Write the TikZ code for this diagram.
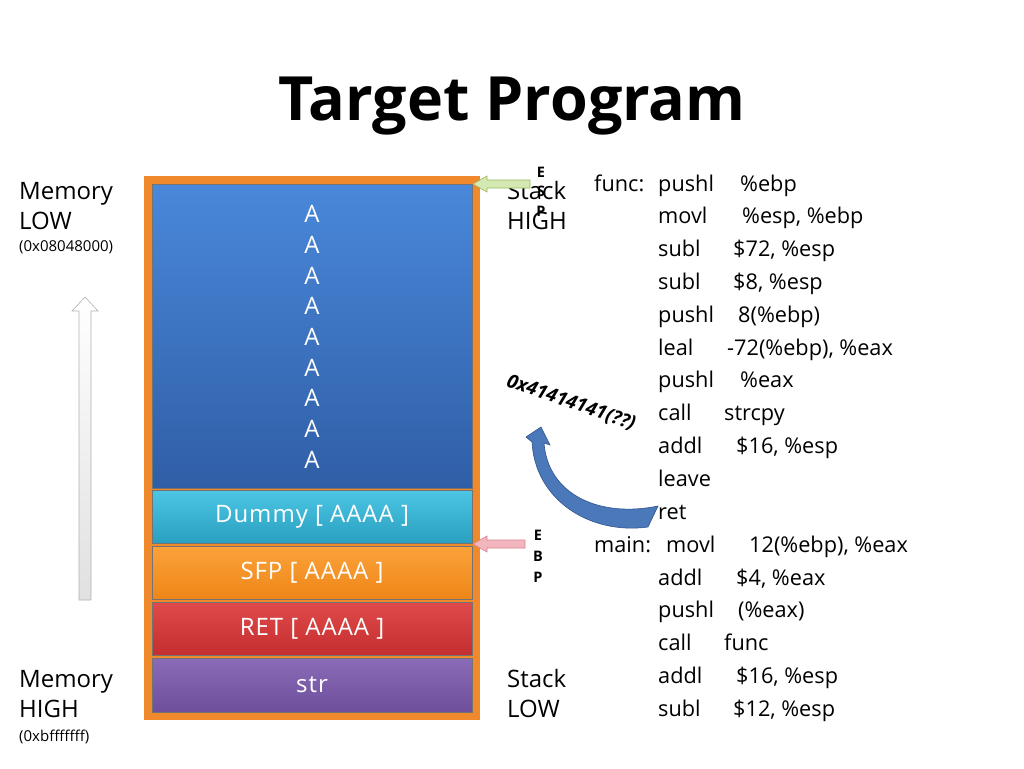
\documentclass[tikz,border=0pt]{standalone}
\usepackage{fontspec}
\setmainfont{Open Sans}
\newfontfamily\blkfont[LetterSpace=4]{Open Sans}
\usetikzlibrary{shadings}
\definecolor{frameor}{HTML}{F0892B}
\definecolor{blueT}{HTML}{4A88DA}
\definecolor{blueB}{HTML}{2F5EA6}
\definecolor{tealT}{HTML}{4CC6E4}
\definecolor{tealB}{HTML}{2A9FC0}
\definecolor{orT}{HTML}{FBA23A}
\definecolor{orB}{HTML}{EE8618}
\definecolor{redT}{HTML}{E04A4A}
\definecolor{redB}{HTML}{C42E2E}
\definecolor{purT}{HTML}{8A6BB8}
\definecolor{purB}{HTML}{6E4F9C}
\definecolor{arrblue}{HTML}{4A78B8}
\definecolor{arrblueD}{HTML}{2F5490}
\definecolor{grn}{HTML}{D4E8B4}
\definecolor{grnD}{HTML}{9BBB59}
\definecolor{pnk}{HTML}{F4B6BE}
\definecolor{pnkD}{HTML}{D9848F}
\begin{document}
\begin{tikzpicture}[x=1pt,y=-1pt,
  blk/.style={draw=black!55,line width=0.8pt,minimum width=320pt,inner sep=0pt,
    font=\blkfont\fontsize{24}{26}\selectfont,text=white},
  lbl/.style={anchor=base west,inner sep=0pt,font=\fontsize{24}{26}\selectfont},
  sml/.style={anchor=base west,inner sep=0pt,font=\fontsize{15}{17}\selectfont},
  code/.style={anchor=base west,inner sep=0pt,font=\fontsize{21.7}{24}\selectfont},
  ptr/.style={inner sep=0pt,font=\bfseries\fontsize{14.5}{15}\selectfont},
  alet/.style={inner sep=0pt,text=white,font=\fontsize{24}{26}\selectfont}]
\useasboundingbox (0,0) rectangle (1024,768);
\fill[white] (0,0) rectangle (1024,768);
% title
\node[anchor=base,inner sep=0pt,font=\bfseries\fontsize{61}{66}\selectfont] (title) at (512,120) {Target Program};
% frame
\node[fill=frameor,minimum width=336pt,minimum height=544pt,inner sep=0pt] (frame) at (312,448) {};
% blocks
\node[blk,minimum height=304pt,top color=blueT,bottom color=blueB] (buf) at (312,336) {};
\node[blk,minimum height=53pt,top color=tealT,bottom color=tealB] (dummy) at (312,516.5) {Dummy [ AAAA ]};
\node[blk,minimum height=53pt,top color=orT,bottom color=orB] (sfp) at (312,572.5) {SFP [ AAAA ]};
\node[blk,minimum height=53pt,top color=redT,bottom color=redB] (ret) at (312,628.5) {RET [ AAAA ]};
\node[blk,minimum height=54pt,top color=purT,bottom color=purB] (str) at (312,685) {str};
\foreach \i/\y in {1/214,2/245,3/276,4/306,5/337,6/368,7/398,8/429,9/460}
  \node[alet] (a\i) at (312,\y) {A};
% left labels
\node[lbl] (memlow1) at (19,199) {Memory};
\node[lbl] (memlow2) at (19,229) {LOW};
\node[sml] (memlow3) at (19,251) {(0x08048000)};
\node[lbl] (memhi1) at (19,687) {Memory};
\node[lbl] (memhi2) at (19,717) {HIGH};
\node[sml] (memhi3) at (19,741) {(0xbfffffff)};
% white up arrow
\shade[top color=white,bottom color=black!12,draw=black!30,line width=0.6pt]
  (79,600) -- (79,311) -- (72,311) -- (85,297) -- (98,311) -- (91,311) -- (91,600) -- cycle;
% stack labels
\node[lbl] (sh1) at (507,199) {Stack};
\node[lbl] (sh2) at (507,229) {HIGH};
\node[lbl] (sl1) at (507,687) {Stack};
\node[lbl] (sl2) at (507,717) {LOW};
% ESP
\node[ptr] (espE) at (541,172) {E};
\node[ptr] (espS) at (541,191) {S};
\node[ptr] (espP) at (541,211) {P};
\fill[grn,draw=grnD,line width=0.6pt] (473,184) -- (487,176) -- (487,180) -- (530,180) -- (530,188) -- (487,188) -- (487,192) -- cycle;
% EBP
\node[ptr] (ebpE) at (538,535) {E};
\node[ptr] (ebpB) at (538,556) {B};
\node[ptr] (ebpP) at (538,577) {P};
\fill[pnk,draw=pnkD,line width=0.6pt] (473,544) -- (487,536) -- (487,540) -- (525,540) -- (525,548) -- (487,548) -- (487,552) -- cycle;
% curved arrow
\fill[arrblue,draw=arrblueD,line width=0.6pt]
  (532,442) .. controls (535,500) and (590,535) .. (648,527)
  -- (658,506)
  .. controls (600,518) and (548,495) .. (544,443)
  -- (550,445) -- (541,427) -- (526,437) -- cycle;
\node[inner sep=0pt,rotate=-19,font=\bfseries\itshape\fontsize{19}{21}\selectfont] (addr) at (571,403) {0x41414141(??)};
% code
\node[code] (f) at (594,191) {func:};
\foreach \n/\y/\m/\ox/\o in {
  c1/191/pushl/740/\%ebp,
  c2/223/movl/742/{\%esp, \%ebp},
  c3/256/subl/733/{\$72, \%esp},
  c4/289/subl/733/{\$8, \%esp},
  c5/322/pushl/738/8(\%ebp),
  c6/355/leal/727/{-72(\%ebp), \%eax},
  c7/387/pushl/740/\%eax,
  c8/420/call/724/strcpy,
  c9/453/addl/736/{\$16, \%esp},
  c13/585/addl/736/{\$4, \%eax},
  c14/617/pushl/738/(\%eax),
  c15/650/call/724/func,
  c16/683/addl/736/{\$16, \%esp},
  c17/716/subl/733/{\$12, \%esp}}{
  \node[code] (\n m) at (658,\y) {\m};
  \node[code] (\n o) at (\ox,\y) {\o};
}
\node[code] (c10) at (658,486) {leave};
\node[code] (c11) at (658,519) {ret};
\node[code] (mainl) at (594,552) {main:};
\node[code] (c12m) at (666,552) {movl};
\node[code] (c12o) at (749,552) {12(\%ebp), \%eax};
\end{tikzpicture}
\end{document}
